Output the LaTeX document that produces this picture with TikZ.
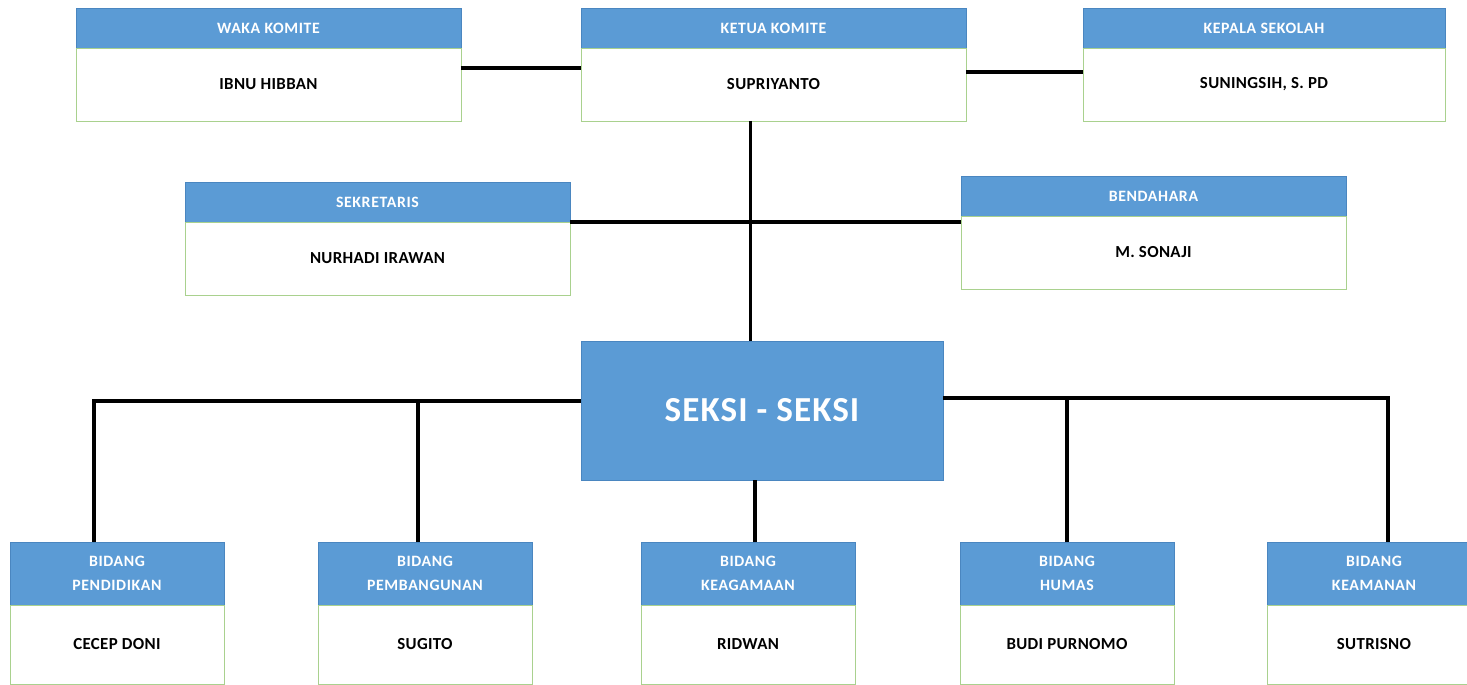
\documentclass[tikz,border=0pt]{standalone}
\usepackage{fontspec}
\setmainfont{Carlito}
\usetikzlibrary{positioning}
\definecolor{headblue}{HTML}{5B9BD5}
\definecolor{edgeblue}{HTML}{4A86C0}
\definecolor{edgegreen}{HTML}{A9D18E}
\tikzset{
  head/.style={draw=edgeblue,fill=headblue,text=white,anchor=north west,
    font=\fontsize{9}{13.5}\selectfont\bfseries\addfontfeatures{LetterSpace=4},
    inner sep=1pt,outer sep=0pt,minimum width=7.7cm,minimum height=0.8cm},
  body/.style={draw=edgegreen,fill=white,outer sep=0pt,
    font=\fontsize{9.6}{12}\selectfont\bfseries\addfontfeatures{LetterSpace=2},
    minimum width=7.7cm,minimum height=1.46cm},
  bidhead/.style={head,align=center,minimum width=4.28cm,minimum height=1.26cm},
  bidbody/.style={body,minimum width=4.28cm,minimum height=1.58cm},
  link/.style={line width=2pt}
}
\begin{document}
\begin{tikzpicture}[x=0.02cm,y=-0.02cm]
        \useasboundingbox (0,0) rectangle (1467,685);
        \node[head](wakah) at (76,8) {WAKA KOMITE};
        \node[body,below=0pt of wakah](waka) {IBNU HIBBAN};
        \node[head](ketuah) at (581,8) {KETUA KOMITE};
        \node[body,below=0pt of ketuah](ketua) {SUPRIYANTO};
        \node[head,minimum width=7.24cm](kepsekh) at (1083,8) {KEPALA SEKOLAH};
        \node[body,minimum width=7.24cm,below=0pt of kepsekh](kepsek) {SUNINGSIH, S. PD};
        \node[head](sekrh) at (185,182) {SEKRETARIS};
        \node[body,below=0pt of sekrh](sekr) {NURHADI IRAWAN};
        \node[head](bendh) at (961,176) {BENDAHARA};
        \node[body,below=0pt of bendh](bend) {M. SONAJI};
        \node[draw=edgeblue,fill=headblue,text=white,minimum width=7.24cm,minimum height=2.78cm,
          font=\fontsize{20}{24}\selectfont\bfseries\addfontfeatures{LetterSpace=3}](seksi) at (762,410.5) {SEKSI - SEKSI};
        \node[bidhead](pendh) at (10,542) {BIDANG\\PENDIDIKAN};
        \node[bidbody,below=0pt of pendh](pend) {CECEP DONI};
        \node[bidhead](pembh) at (318,542) {BIDANG\\PEMBANGUNAN};
        \node[bidbody,below=0pt of pembh](pemb) {SUGITO};
        \node[bidhead](keagh) at (641,542) {BIDANG\\KEAGAMAAN};
        \node[bidbody,below=0pt of keagh](keag) {RIDWAN};
        \node[bidhead](humash) at (960,542) {BIDANG\\HUMAS};
        \node[bidbody,below=0pt of humash](humas) {BUDI PURNOMO};
        \node[bidhead](keamh) at (1267,542) {BIDANG\\KEAMANAN};
        \node[bidbody,below=0pt of keamh](keam) {SUTRISNO};
        \draw[link]([yshift=0.33cm]waka.east)--([yshift=0.33cm]ketua.west);
        \draw[link]([yshift=0.25cm]ketua.east)--([yshift=0.25cm]ketua.east -| kepsek.west);
        \draw[link]([xshift=-0.46cm]ketua.south)--([xshift=-0.46cm]ketua.south |- seksi.north);
        \draw[link](sekr.north east)--(sekr.north east -| bend.west);
        \draw[link]([yshift=0.19cm]seksi.west)-|([xshift=-0.46cm]pendh.north);
        \draw[link]([xshift=-0.14cm]pembh.north)|-([yshift=0.19cm]seksi.west);
        \draw[link]([yshift=0.25cm]seksi.east)-|([xshift=0.28cm]keamh.north);
        \draw[link](humash.north)|-([yshift=0.25cm]seksi.east);
        \draw[link]([xshift=0.14cm]keagh.north)--([xshift=0.14cm]keagh.north |- seksi.south);
        \end{tikzpicture}
\end{document}
